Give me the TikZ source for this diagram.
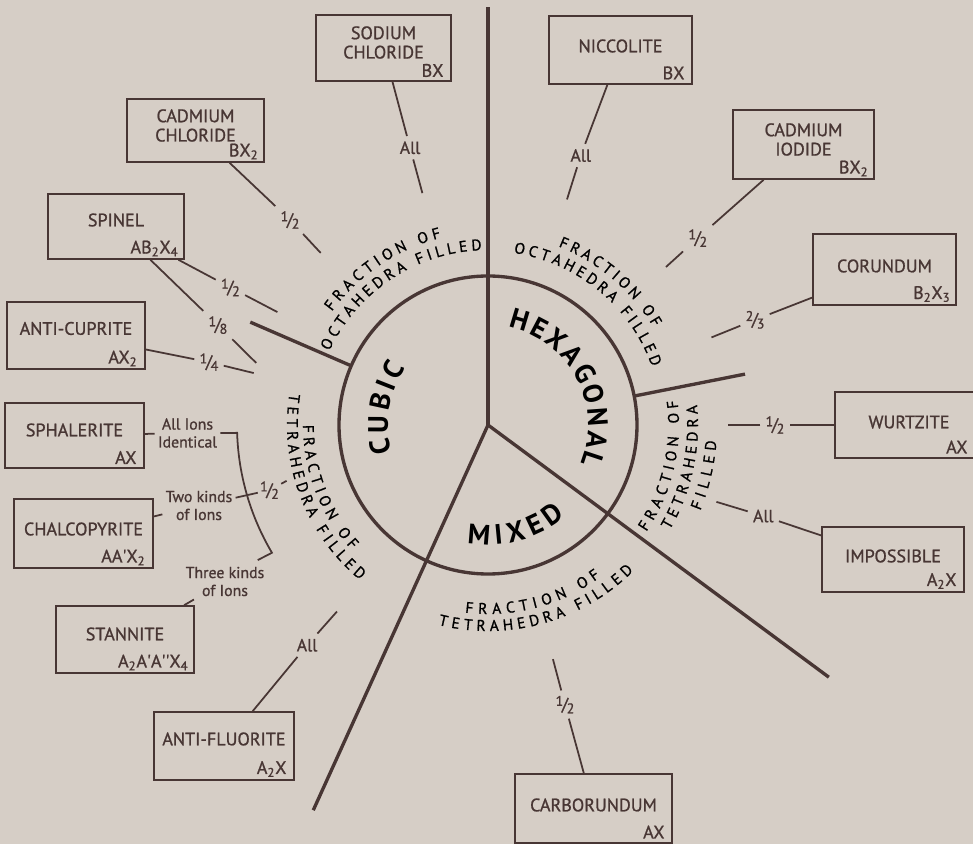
\documentclass[tikz,border=0pt]{standalone}
\usepackage{fontspec}
\setmainfont{PT Sans}[UprightFeatures={FakeBold=1}]
\usetikzlibrary{positioning, decorations.text}

\definecolor{paper}{RGB}{214,206,198}
\definecolor{ink}{RGB}{72,54,52}

\newcommand{\frc}[2]{\raisebox{0.5ex}{\footnotesize #1}\kern-0.08em/\kern-0.08em\raisebox{-0.35ex}{\footnotesize #2}}
\newcommand{\arcfont}{\fontsize{8.8}{9}\selectfont}
\newcommand{\bigfont}{\fontsize{16}{16}\selectfont\bfseries}

\begin{document}
\begin{tikzpicture}[
    x=0.02cm, y=0.02cm, color=ink,
    box/.style={draw, line width=0.9pt, minimum width=2.76cm, minimum height=1.32cm, inner sep=0pt},
    mineral/.style={font=\fontsize{10.3}{11}\selectfont, align=center, inner sep=0pt},
    formula/.style={font=\fontsize{10.3}{11}\selectfont, inner sep=0pt},
    frac/.style={font=\fontsize{10}{11}\selectfont, inner sep=0.1cm},
    note/.style={font=\fontsize{9}{10.2}\selectfont, align=center, inner sep=0.06cm},
    spoke/.style={line width=1.9pt},
    leader/.style={line width=1pt},
    arctext/.style={decorate, decoration={text along path, text align={fit to path}, text={|\arcfont|#1}}},
    bigtext/.style={decorate, decoration={text along path, text align={fit to path}, text={|\bigfont|#1}}}
]

\clip (-488,-419) rectangle (485,425);
\fill[paper] (-488,-419) rectangle (485,425);

% circle and spokes
\coordinate (hub) at (0,0);
\coordinate (top) at (90:418);
\coordinate (low-left) at (245.6:423);
\coordinate (low-right) at (-36.5:424);
\draw[spoke] (hub) circle[radius=149];
\draw[spoke] (hub) -- (top);
\draw[spoke] (hub) -- (low-left);
\draw[spoke] (hub) -- (low-right);
\draw[spoke] (156.6:149) -- (156.6:259);
\draw[spoke] (11.2:149) -- (11.2:262);

% names in the circle
\path[bigtext=CUBIC] (196:100) arc[start angle=196, end angle=145, radius=100];
\path[bigtext=HEXAGONAL] (78.5:100) arc[start angle=78.5, end angle=-22.5, radius=100];
\path[bigtext=MIXED] (-100:120) arc[start angle=-100, end angle=-50, radius=120];

% curved labels
\path[arctext=FRACTION OF] (144:193) arc[start angle=144, end angle=104, radius=193];
\path[arctext=OCTAHEDRA FILLED] (155:175) arc[start angle=155, end angle=92, radius=175];
\path[arctext=FRACTION OF] (68.5:192) arc[start angle=68.5, end angle=30.5, radius=192];
\path[arctext=OCTAHEDRA FILLED] (81.5:174) arc[start angle=81.5, end angle=19.5, radius=174];
\path[arctext=FRACTION OF] (180:185) arc[start angle=180, end angle=222.5, radius=185];
\path[arctext=TETRAHEDRA FILLED] (171:201) arc[start angle=171, end angle=230.5, radius=201];
\path[arctext=FRACTION OF] (-34:191) arc[start angle=-34, end angle=7.5, radius=191];
\path[arctext=TETRAHEDRA] (-30:210) arc[start angle=-30, end angle=5.5, radius=210];
\path[arctext=FILLED] (-22:229) arc[start angle=-22, end angle=-4, radius=229];
\path[arctext=FRACTION OF] (-97:189) arc[start angle=-97, end angle=-53.5, radius=189];
\path[arctext=TETRAHEDRA FILLED] (-104:206) arc[start angle=-104, end angle=-45, radius=206];

% boxes
\node[box, minimum width=2.7cm] (nacl) at (-104.5,377) {};
\node[box, minimum width=2.74cm, minimum height=1.26cm] (cdcl) at (-292.5,294.5) {};
\node[box, minimum width=2.72cm, minimum height=1.3cm] (spinel) at (-372,198.5) {};
\node[box, minimum height=1.34cm] (acup) at (-412,89.5) {};
\node[box, minimum width=2.78cm, minimum height=1.3cm] (sphal) at (-413.5,-10.5) {};
\node[box, minimum width=2.78cm, minimum height=1.38cm] (chalco) at (-404.5,-108.5) {};
\node[box, minimum height=1.34cm] (stann) at (-363,-214.5) {};
\node[box, minimum width=2.8cm, minimum height=1.36cm] (aflu) at (-264,-321) {};
\node[box, minimum width=2.86cm, minimum height=1.36cm] (nicc) at (132.5,375) {};
\node[box, minimum width=2.82cm, minimum height=1.38cm] (cdio) at (315.5,280.5) {};
\node[box, minimum width=2.86cm, minimum height=1.42cm] (corund) at (396.5,155.5) {};
\node[box, minimum width=2.96cm] (wurtz) at (421,0) {};
\node[box, minimum width=2.84cm, minimum height=1.3cm] (imposs) at (405,-134.5) {};
\node[box, minimum width=3.14cm, minimum height=1.38cm] (carbo) at (105.5,-383.5) {};

\node[mineral] (nacl-t) at ([yshift=0.11cm]nacl.center) {SODIUM\\CHLORIDE};
\node[mineral] (cdcl-t) at ([yshift=0.1cm]cdcl.center) {CADMIUM\\CHLORIDE};
\node[mineral] (spinel-t) at ([yshift=0.13cm]spinel.center) {SPINEL};
\node[mineral] (acup-t) at ([yshift=0.14cm]acup.center) {ANTI-CUPRITE};
\node[mineral] (sphal-t) at ([yshift=0.11cm]sphal.center) {SPHALERITE};
\node[mineral] (chalco-t) at ([yshift=0.09cm]chalco.center) {CHALCOPYRITE};
\node[mineral] (stann-t) at ([yshift=0.11cm]stann.center) {STANNITE};
\node[mineral] (aflu-t) at ([yshift=0.14cm]aflu.center) {ANTI-FLUORITE};
\node[mineral] (nicc-t) at ([yshift=0.08cm]nicc.center) {NICCOLITE};
\node[mineral] (cdio-t) at ([yshift=0.1cm]cdio.center) {CADMIUM\\IODIDE};
\node[mineral] (corund-t) at ([yshift=0.07cm]corund.center) {CORUNDUM};
\node[mineral] (wurtz-t) at ([yshift=0.06cm]wurtz.center) {WURTZITE};
\node[mineral] (imposs-t) at ([yshift=0.07cm]imposs.center) {IMPOSSIBLE};
\node[mineral] (carbo-t) at ([yshift=0.07cm]carbo.center) {CARBORUNDUM};

\node[formula, above left=0.09cm and 0.16cm of nacl.south east] (nacl-f) {BX};
\node[formula, above left=0.06cm and 0.12cm of cdcl.south east] (cdcl-f) {BX\textsubscript{2}};
\node[formula, above left=0.06cm and 0.12cm of spinel.south east] (spinel-f) {AB\textsubscript{2}X\textsubscript{4}};
\node[formula, above left=0.06cm and 0.16cm of acup.south east] (acup-f) {AX\textsubscript{2}};
\node[formula, above left=0.09cm and 0.16cm of sphal.south east] (sphal-f) {AX};
\node[formula, above left=0.06cm and 0.16cm of chalco.south east] (chalco-f) {AA\textquotesingle X\textsubscript{2}};
\node[formula, above left=0.06cm and 0.12cm of stann.south east] (stann-f) {A\textsubscript{2}A\textquotesingle A\textquotesingle\textquotesingle X\textsubscript{4}};
\node[formula, above left=0.07cm and 0.16cm of aflu.south east] (aflu-f) {A\textsubscript{2}X};
\node[formula, above left=0.1cm and 0.16cm of nicc.south east] (nicc-f) {BX};
\node[formula, above left=0.06cm and 0.12cm of cdio.south east] (cdio-f) {BX\textsubscript{2}};
\node[formula, above left=0.07cm and 0.12cm of corund.south east] (corund-f) {B\textsubscript{2}X\textsubscript{3}};
\node[formula, above left=0.1cm and 0.32cm of wurtz.south east] (wurtz-f) {AX};
\node[formula, above left=0.07cm and 0.16cm of imposs.south east] (imposs-f) {A\textsubscript{2}X};
\node[formula, above left=0.1cm and 0.16cm of carbo.south east] (carbo-f) {AX};

% fractions on the radial leaders
\node[frac] (nacl-l) at (105.7:288) {All};
\node[frac] (cdcl-l) at (134:285) {\frc12};
\node[frac] (spinel-l) at (151.9:292) {\frc12};
\node[frac] (spinel-m) at (159.7:288) {\frc18};
\node[frac] (acup-l) at (167.3:286) {\frc14};
\node[frac] (nicc-l) at (71:285) {All};
\node[frac] (cdio-l) at (41.7:281) {\frc12};
\node[frac] (corund-l) at (21.5:287) {\frc23};
\node[frac] (wurtz-l) at (0:287) {\frc12};
\node[frac] (imposs-l) at (-18.3:290) {All};
\node[frac] (carbo-l) at (-74.6:290) {\frc12};
\node[frac] (aflu-l) at (230.6:285) {All};

\coordinate (nacl-e) at (105.8:241);
\coordinate (cdcl-e) at (134.2:240);
\coordinate (spinel-e) at (151.8:239);
\coordinate (spinel-n) at (165:240);
\coordinate (acup-e) at (167.5:240);
\coordinate (nicc-e) at (70.7:239);
\coordinate (cdio-e) at (41.6:238);
\coordinate (corund-e) at (21.4:240);
\coordinate (wurtz-e) at (0:240);
\coordinate (imposs-e) at (-18.6:241);
\coordinate (carbo-e) at (-74.5:243);
\coordinate (aflu-e) at (231:240);

\draw[leader] (nacl) -- (nacl-l) -- (nacl-e);
\draw[leader] (cdcl) -- (cdcl-l) -- (cdcl-e);
\draw[leader] (spinel) -- (spinel-l) -- (spinel-e);
\draw[leader] (spinel) -- (spinel-m) -- (spinel-n);
\draw[leader] (acup) -- (acup-l) -- (acup-e);
\draw[leader] (nicc) -- (nicc-l) -- (nicc-e);
\draw[leader] (cdio) -- (cdio-l) -- (cdio-e);
\draw[leader] (corund) -- (corund-l) -- (corund-e);
\draw[leader] (wurtz) -- (wurtz-l) -- (wurtz-e);
\draw[leader] (imposs) -- (imposs-l) -- (imposs-e);
\draw[leader] (carbo) -- (carbo-l) -- (carbo-e);
\draw[leader] (aflu) -- (aflu-l) -- (aflu-e);

% the sphalerite group
\node[note] (ions1) at (-300.5,-8) {All Ions\\Identical};
\node[note] (ions2) at (-289,-80.5) {Two kinds\\of Ions};
\node[note] (ions3) at (-263,-156.5) {Three kinds\\of Ions};
\node[frac, inner sep=0.04cm] (sphal-l) at (196.6:228) {\frc12};
\coordinate (sphal-e) at (195.5:209);
\coordinate (hook) at (210.4:267);

\draw[leader] (sphal) -- (ions1);
\draw[leader] (ions1) -- (181.8:251) arc[start angle=181.8, end angle=210.6, radius=251] -- (hook);
\draw[leader] (ions2.12) -- (sphal-l) -- (sphal-e);
\draw[leader] (chalco) -- (ions2);
\draw[leader] (stann) -- (ions3);

\end{tikzpicture}
\end{document}
